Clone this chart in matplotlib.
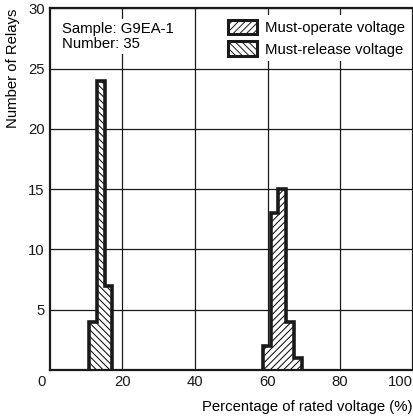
import matplotlib
matplotlib.use('Agg')
import matplotlib.pyplot as plt
from matplotlib.patches import Patch

plt.rcParams['font.family'] = ['Liberation Sans', 'DejaVu Sans']
plt.rcParams['font.size'] = 10.7
plt.rcParams['hatch.linewidth'] = 0.7

# must-release voltage histogram (left group)
release_edges = [10.9, 13.1, 15.1, 17.2]
release_counts = [4, 24, 7]

# must-operate voltage histogram (right group)
operate_edges = [58.8, 60.9, 63.0, 65.2, 67.3, 69.4]
operate_counts = [2, 13, 15, 4, 1]

xticks = [20, 40, 60, 80, 100]
yticks = [5, 10, 15, 20, 25, 30]

fig = plt.figure(figsize=(4.14, 4.17), dpi=100)
ax = fig.add_axes([0.12, 0.1127, 0.877, 0.867])

ax.stairs(release_counts, release_edges, fill=True, facecolor='white',
          edgecolor='black', hatch='\\\\\\\\\\', linewidth=0, zorder=2)
ax.stairs(release_counts, release_edges, baseline=0, fill=False,
          edgecolor='#1a1a1a', linewidth=2.6, zorder=3)
ax.stairs(operate_counts, operate_edges, fill=True, facecolor='white',
          edgecolor='black', hatch='/////', linewidth=0, zorder=2)
ax.stairs(operate_counts, operate_edges, baseline=0, fill=False,
          edgecolor='#1a1a1a', linewidth=2.6, zorder=3)

ax.set_xlim(0, 100)
ax.set_ylim(0, 30)
ax.set_xticks(xticks)
ax.set_yticks(yticks)
ax.tick_params(length=0, pad=3.5, colors='#1a1a1a')
ax.grid(True, color='#1a1a1a', linewidth=0.9)
ax.set_axisbelow(True)
for s in ax.spines.values():
    s.set_linewidth(1.6)
    s.set_color('#1a1a1a')

labels = ax.get_xticklabels()
labels[-1].set_horizontalalignment('right')

ax.annotate('0', xy=(0, 0), xytext=(-6, -3.5), textcoords='offset points',
            ha='center', va='top', color='#1a1a1a')

ax.set_xlabel('Percentage of rated voltage (%)', loc='right', labelpad=8)
ax.set_ylabel('Number of Relays', loc='top', labelpad=6)

ax.text(3.5, 27.7, 'Sample: G9EA-1\nNumber: 35', va='center', ha='left',
        linespacing=1.1, zorder=4,
        bbox=dict(facecolor='white', edgecolor='none', pad=2))

handles = [
    Patch(facecolor='white', edgecolor='#1a1a1a', linewidth=2.2, hatch='/////',
          label='Must-operate voltage'),
    Patch(facecolor='white', edgecolor='#1a1a1a', linewidth=2.2, hatch='\\\\\\\\\\',
          label='Must-release voltage'),
]
leg = ax.legend(handles=handles, loc='upper right', bbox_to_anchor=(1.0, 0.99),
                frameon=True, fancybox=False, framealpha=1, facecolor='white',
                edgecolor='none', handlelength=1.95, handleheight=1.1,
                handletextpad=0.55, labelspacing=0.45, borderpad=0.3,
                borderaxespad=0.2)
leg.set_zorder(5)

fig.savefig('out.png', dpi=100)
